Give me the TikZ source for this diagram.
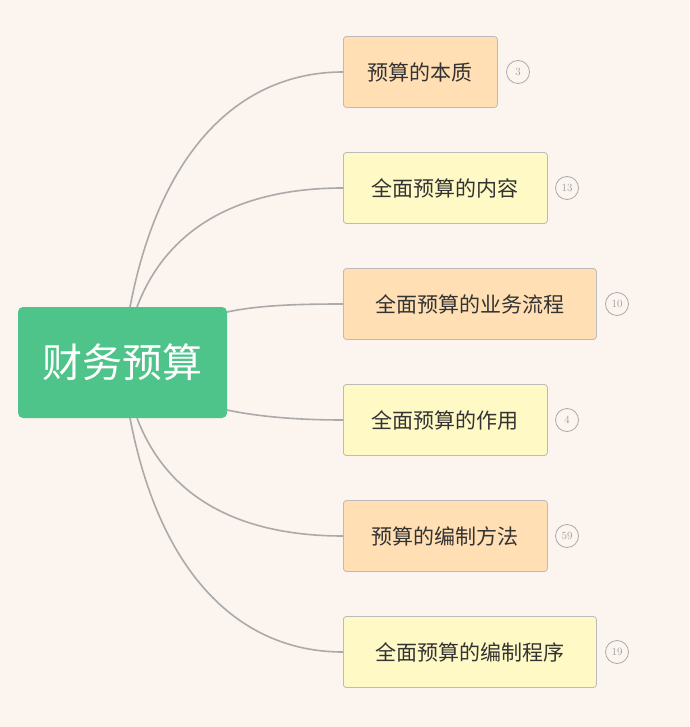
\documentclass[tikz,border=0pt]{standalone}
\usepackage{fontspec}
\newfontfamily\cjk{Noto Sans CJK SC}
\definecolor{bg}{HTML}{FBF4EF}
\definecolor{rootc}{HTML}{4FC48A}
\definecolor{orc}{HTML}{FFDFB3}
\definecolor{yec}{HTML}{FFF9C6}
\definecolor{edgec}{HTML}{AAAAAA}
\definecolor{txt}{HTML}{333333}
\begin{document}
\begin{tikzpicture}[x=1pt,y=-1pt,
  child/.style={draw=edgec!80,line width=0.8pt,rounded corners=3pt,minimum height=71pt,anchor=west,inner xsep=14pt,font=\cjk\fontsize{21}{24}\selectfont,text=txt},
  badge/.style={circle,draw=edgec,line width=0.8pt,minimum size=23pt,inner sep=0pt,font=\fontsize{11}{12}\selectfont,text=edgec!90!black},
  conn/.style={draw=edgec,line width=1.6pt}]
\fill[bg] (0,0) rectangle (689,727);
\useasboundingbox (0,0) rectangle (689,727);
\node[fill=rootc,rounded corners=5pt,minimum width=209pt,minimum height=111pt,text=white,font=\cjk\fontsize{40}{46}\selectfont] (root) at (122.5,362.5) {财务预算};
\node[child,fill=orc,minimum width=154pt] (c1) at (343,72) {预算的本质};
\node[child,fill=yec,minimum width=204pt] (c2) at (343,188) {全面预算的内容};
\node[child,fill=orc,minimum width=253pt] (c3) at (343,304) {全面预算的业务流程};
\node[child,fill=yec,minimum width=204pt] (c4) at (343,420) {全面预算的作用};
\node[child,fill=orc,minimum width=204pt] (c5) at (343,536) {预算的编制方法};
\node[child,fill=yec,minimum width=253pt] (c6) at (343,652) {全面预算的编制程序};
\node[badge] (b1) at (518,72) {3};
\node[badge] (b2) at (567,188) {13};
\node[badge] (b3) at (617,304) {10};
\node[badge] (b4) at (567,420) {4};
\node[badge] (b5) at (567,536) {59};
\node[badge] (b6) at (617,652) {19};
\coordinate (t1) at (130,307);
\coordinate (t2) at (137,307);
\coordinate (r3) at (227,312);
\coordinate (r4) at (227,410);
\coordinate (d5) at (137,418);
\coordinate (d6) at (130,418);
\begin{scope}[on background layer/.try]
\end{scope}
\draw[conn] (t1) .. controls (160,150) and (240,72) .. (c1.west);
\draw[conn] (t2) .. controls (170,220) and (250,188) .. (c2.west);
\draw[conn] (r3) .. controls (260,305) and (300,304) .. (c3.west);
\draw[conn] (r4) .. controls (260,417) and (300,420) .. (c4.west);
\draw[conn] (d5) .. controls (170,505) and (250,536) .. (c5.west);
\draw[conn] (d6) .. controls (160,575) and (240,652) .. (c6.west);
\end{tikzpicture}
\end{document}
